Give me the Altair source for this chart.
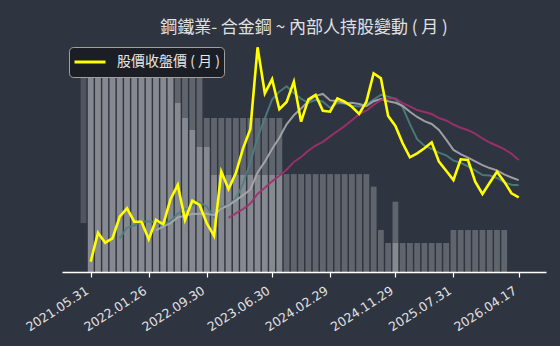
import altair as alt
import pandas as pd

# ---------------- data ----------------
tick_idx = [0, 8, 16, 25, 33, 42, 50, 59]
tick_labels = ["2021.05.31", "2022.01.26", "2022.09.30", "2023.06.30",
               "2024.02.29", "2024.11.29", "2025.07.31", "2026.04.17"]

price = [11.29, 14.91, 13.66, 14.21, 16.91, 17.96, 16.29, 16.29, 14.09, 16.50,
         15.96, 19.09, 20.88, 16.50, 18.91, 18.38, 16.09, 14.50, 22.54, 20.38,
         22.34, 25.46, 27.84, 38.09, 32.34, 34.09, 30.34, 31.25, 33.79, 28.79,
         31.59, 32.13, 30.16, 30.04, 31.71, 31.29, 30.66, 29.75, 31.29, 34.84,
         34.21, 29.50, 28.25, 26.09, 24.34, 24.84, 25.46, 26.21, 23.79, 22.66,
         21.50, 24.09, 24.00, 21.29, 19.75, 21.16, 22.54, 21.29, 19.84, 19.34]

hold_outer = [86.2, 86.2, 86.2, 86.2, 86.2, 86.2, 86.2, 86.2, 86.2, 86.2,
              86.2, 86.2, 86.2, 86.2, 86.2, 86.2, 66.4, 66.4, 66.4, 66.4,
              66.4, 66.4, 66.4, 66.4, 66.4, 66.4, 66.4, 42.2, 42.2, 42.2,
              42.2, 42.2, 42.2, 42.2, 42.2, 42.2, 42.2, 42.2, 42.2, 36.8,
              18.1, 12.5, 30.3, 12.5, 12.5, 12.5, 12.5, 12.5, 12.5, 12.5,
              18.1, 18.1, 18.1, 18.1, 18.1, 18.1, 18.1, 18.1]

hold_inner = [86.2, 86.2, 86.2, 86.2, 86.2, 86.2, 86.2, 86.2, 86.2, 86.2,
              86.2, 86.2, 72.8, 66.4, 61.2, 53.9, 53.9, 41.8, 41.8, 41.8,
              41.8, 41.8, 41.8, 41.8, 41.8, 41.8, 41.8, 0, 0, 0,
              0, 0, 0, 0, 0, 0, 0, 0, 0, 0,
              0, 0, 12.5, 0, 0, 0, 0, 0, 0, 0,
              0, 0, 0, 0, 0, 0, 0, 0]

float_idx = [-1]
float_top = [86.2]
float_bottom = [21.1]

legend_label = "股價收盤價 ( 月 )"
title_text = "鋼鐵業- 合金鋼 ~ 內部人持股變動 ( 月 )"

# ---------------- tables ----------------
price_df = pd.DataFrame({"idx": list(range(len(price))), "price": price,
                         "series": [legend_label] * len(price)})
hold_df = pd.DataFrame({"idx": list(range(len(hold_outer))),
                        "outer": hold_outer, "inner": hold_inner})
float_df = pd.DataFrame({"idx": float_idx, "top": float_top, "bottom": float_bottom})

label_expr = " : ".join(
    f"datum.value == {i} ? '{t}'" for i, t in zip(tick_idx, tick_labels)) + " : ''"

BG = "#2e3440"
FONT = "Noto Sans CJK TC"

x_enc = alt.X("idx:Q",
              scale=alt.Scale(domain=[-3.27, 62.07], nice=False, zero=False),
              axis=alt.Axis(values=tick_idx, labelExpr=label_expr, title=None,
                            grid=False, labelAngle=-33, labelAlign="right",
                            labelBaseline="top", labelFont="DejaVu Sans",
                            labelFontSize=12.5, labelColor="#e0e0e0",
                            labelOverlap=False, labelBound=False, labelFlush=False,
                            labelOffset=-7,
                            domainColor="#ffffff", domainWidth=1.5,
                            tickColor="#ffffff", tickSize=5, tickWidth=1.2,
                            labelPadding=7))

hscale = alt.Scale(domain=[0, 100], nice=False)
pscale = alt.Scale(domain=[10, 39], nice=False, zero=False)

bar_outer = alt.Chart(hold_df).mark_bar(size=5.8, color="#ffffff", opacity=0.24).encode(
    x=x_enc, y=alt.Y("outer:Q", scale=hscale, axis=None))
bar_inner = alt.Chart(hold_df).mark_bar(size=5.8, color="#ffffff", opacity=0.24).encode(
    x="idx:Q", y=alt.Y("inner:Q", scale=hscale, axis=None))
bar_float = alt.Chart(float_df).mark_bar(size=5.8, color="#ffffff", opacity=0.16).encode(
    x="idx:Q", y=alt.Y("top:Q", scale=hscale, axis=None), y2="bottom:Q")


def ma_line(n, color, width=2.0, opacity=0.9):
    return (alt.Chart(price_df)
            .transform_window(ma="mean(price)", cnt="count()",
                              frame=[-(n - 1), 0], sort=[{"field": "idx"}])
            .transform_filter(f"datum.cnt >= {n}")
            .mark_line(color=color, strokeWidth=width, opacity=opacity)
            .encode(x="idx:Q", y=alt.Y("ma:Q", scale=pscale, axis=None)))


ma5 = ma_line(5, "#4e8080")
ma10 = ma_line(10, "#a8aaae")
ma20 = ma_line(20, "#a3306d")

price_line = alt.Chart(price_df).mark_line(strokeWidth=2.6).encode(
    x="idx:Q",
    y=alt.Y("price:Q", scale=pscale, axis=None),
    color=alt.Color("series:N",
                    scale=alt.Scale(domain=[legend_label], range=["#ffff00"]),
                    legend=alt.Legend(title=None, orient="none", legendX=7, legendY=7,
                                      symbolType="stroke", symbolSize=961,
                                      symbolStrokeWidth=3, labelOffset=10,
                                      clipHeight=22,
                                      fillColor="#1b1e24", strokeColor="#a0a0a0",
                                      cornerRadius=4, padding=4,
                                      labelFont=FONT, labelFontSize=14,
                                      labelColor="#e6e6e6")))

bars = alt.layer(bar_float, bar_outer, bar_inner)
lines = alt.layer(ma5, ma10, ma20, price_line)

chart = (alt.layer(bars, lines)
         .resolve_scale(y="independent")
         .properties(width=484, height=232,
                     padding={"left": 62, "top": 40, "right": 14, "bottom": 74},
                     autosize=alt.AutoSizeParams(type="none"),
                     title=alt.TitleParams(title_text, font=FONT, fontSize=17,
                                           fontWeight="normal", color="#e0e0e0",
                                           anchor="middle", offset=3))
         .configure(background=BG)
         .configure_view(stroke=None))

chart.save("out.html", embed_options={"renderer": "svg", "actions": False})
